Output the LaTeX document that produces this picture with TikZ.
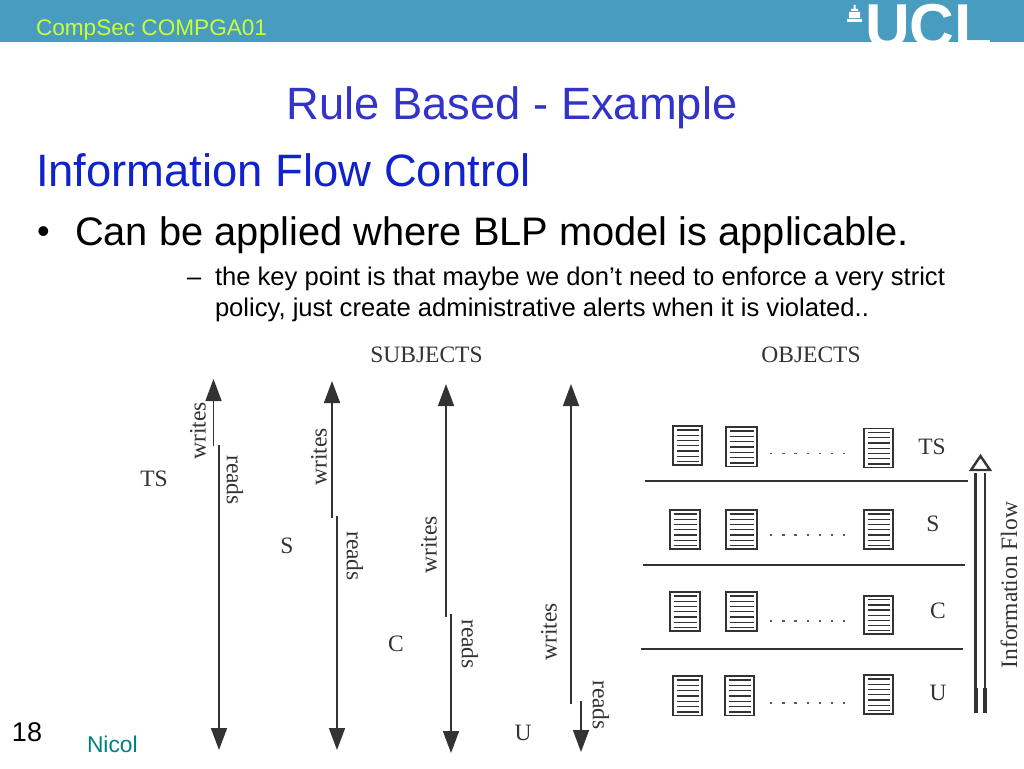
\documentclass[tikz,border=0pt]{standalone}
\usepackage{fontspec}
\usetikzlibrary{arrows.meta}
\setmainfont{Liberation Sans}
\newfontfamily\figfont{Liberation Serif}
\definecolor{barblue}{HTML}{479CBF}
\definecolor{titleblue}{HTML}{3333CC}
\definecolor{headblue}{HTML}{0F22CC}
\definecolor{logogreen}{HTML}{CCFF33}
\definecolor{nicolteal}{HTML}{008080}
\definecolor{figgrey}{HTML}{333333}
\tikzset{
  every node/.style={inner sep=0pt,outer sep=0pt},
  figlabel/.style={font=\figfont\fontsize{23.5}{26}\selectfont,text=figgrey},
  flowline/.style={draw=figgrey,line width=1.6pt},
  flowtip/.style={flowline,-{Triangle[length=22pt,width=16pt]}},
  levelline/.style={draw=figgrey,line width=1.4pt},
  docbox/.style={draw=figgrey,line width=1.2pt,fill=white},
  docline/.style={draw=figgrey,line width=1.3pt},
  dots/.style={draw=gray!70!black,line width=1.2pt,dash pattern=on 2.4pt off 9.8pt},
  pics/docicon/.style n args={2}{code={
    \draw[docbox] (0,0) rectangle (#1,#2);
    \foreach \f in {0.10,0.235,0.37,0.505,0.64,0.775,0.91}
      \draw[docline] (3.5,\f*#2) -- (#1-3.5,\f*#2);
  }},
}
\begin{document}
\begin{tikzpicture}[x=1pt,y=-1pt]
\useasboundingbox (0,0) rectangle (1024,768);
\fill[white] (0,0) rectangle (1024,768);
\fill[barblue] (0,0) rectangle (1024,42.5);
% logo
\node[anchor=base west,text=white,font=\fontsize{62}{62}\selectfont\bfseries] (ucl) at (865,47.5) {UCL};
\fill[white] (847,22) rectangle (862,19) (849,18) rectangle (860,12) (851,11) rectangle (858,9) (853.5,9) rectangle (855.5,5);
\node[anchor=base west,text=logogreen,font=\fontsize{22.6}{24}\selectfont] (course) at (36,35.5) {CompSec COMPGA01};
\node[anchor=base,text=titleblue,font=\fontsize{45.3}{48}\selectfont] (title) at (512,119) {Rule Based - Example};
\node[anchor=base west,text=headblue,font=\fontsize{45.4}{48}\selectfont] (head) at (36,186) {Information Flow Control};
\node[anchor=base west,font=\fontsize{36}{40}\selectfont] (bullet) at (37,243.5) {•};
\node[anchor=base west,font=\fontsize{39.8}{40}\selectfont] (main) at (75,245) {Can be applied where BLP model is applicable.};
\node[anchor=base west,font=\fontsize{25.6}{30}\selectfont] (dash) at (187,285) {–};
\node[anchor=base west,font=\fontsize{25.6}{30}\selectfont] (sub1) at (215,285) {the key point is that maybe we don’t need to enforce a very strict};
\node[anchor=base west,font=\fontsize{25.6}{30}\selectfont] (sub2) at (215,316) {policy, just create administrative alerts when it is violated..};
\node[anchor=base west,font=\fontsize{27}{30}\selectfont] (pagenum) at (12,741) {18};
\node[anchor=base west,text=nicolteal,font=\fontsize{22.8}{24}\selectfont] (nicol) at (87,752) {Nicol};
% figure headings
\node[figlabel] (subjects) at (426.5,355) {SUBJECTS};
\node[figlabel] (objects) at (811,355) {OBJECTS};
% subject lines
\coordinate (w1a) at (213.5,446); \coordinate (w1b) at (213.5,379);
\coordinate (r1a) at (219,445);   \coordinate (r1b) at (219,750);
\coordinate (w2a) at (332,518);   \coordinate (w2b) at (332,381);
\coordinate (r2a) at (337,516);   \coordinate (r2b) at (337,750);
\coordinate (w3a) at (446,617);   \coordinate (w3b) at (446,384);
\coordinate (r3a) at (451,614);   \coordinate (r3b) at (451,753);
\coordinate (w4a) at (571,704);   \coordinate (w4b) at (571,384);
\coordinate (r4a) at (581,701);   \coordinate (r4b) at (581,752);
\foreach \n in {1,2,3,4}{
  \draw[flowtip] (w\n a) -- (w\n b);
  \draw[flowtip] (r\n a) -- (r\n b);
}
\node[figlabel,rotate=90] (wl1) at (198,431) {writes};
\node[figlabel,rotate=-90] (rl1) at (235,480) {reads};
\node[figlabel,rotate=90] (wl2) at (319,457) {writes};
\node[figlabel,rotate=-90] (rl2) at (355,556) {reads};
\node[figlabel,rotate=90] (wl3) at (429,545) {writes};
\node[figlabel,rotate=-90] (rl3) at (470,644) {reads};
\node[figlabel,rotate=90] (wl4) at (549,632) {writes};
\node[figlabel,rotate=-90] (rl4) at (601,705) {reads};
\node[figlabel] (lts) at (154,479) {TS};
\node[figlabel] (ls) at (287,546) {S};
\node[figlabel] (lc) at (396,644) {C};
\node[figlabel] (lu) at (523,733) {U};
% object rows
\pic at (673,426) {docicon={29}{39}};
\pic at (726,427) {docicon={31}{39.5}};
\pic at (864,428.5) {docicon={29}{39}};
\pic at (670,510) {docicon={30}{39}};
\pic at (726,510) {docicon={31}{39}};
\pic at (864,510) {docicon={29}{39}};
\pic at (670,592) {docicon={30}{39}};
\pic at (726,592) {docicon={31}{39}};
\pic at (864,596) {docicon={29}{38}};
\pic at (673,676) {docicon={29}{39.5}};
\pic at (725,676) {docicon={29}{39.5}};
\pic at (864,675) {docicon={29}{39}};
\draw[dots] (770,453.5) -- (845,453.5);
\draw[dots] (770,535) -- (845,535);
\draw[dots] (770,621) -- (845,621);
\draw[dots] (770,703) -- (845,703);
\coordinate (l1a) at (645,481); \coordinate (l1b) at (968,481);
\coordinate (l2a) at (643,565); \coordinate (l2b) at (965,565);
\coordinate (l3a) at (641,649); \coordinate (l3b) at (963,649);
\foreach \n in {1,2,3}{\draw[levelline] (l\n a) -- (l\n b);}
\node[figlabel] (ots) at (932,447) {TS};
\node[figlabel] (os) at (933,524) {S};
\node[figlabel] (oc) at (938,611) {C};
\node[figlabel] (ou) at (938,693) {U};
% information flow arrow
\coordinate (fa1) at (975.7,688); \coordinate (fb1) at (975.7,473);
\coordinate (fa2) at (985,688); \coordinate (fb2) at (985,473);
\coordinate (fc1) at (975.7,713); \coordinate (fc2) at (985,713);
\draw[figgrey,line width=2.6pt] (fa1) -- (fb1);
\draw[figgrey,line width=2.6pt] (fa2) -- (fb2);
\draw[figgrey,line width=3.8pt] (fc1) -- (fa1);
\draw[figgrey,line width=3.8pt] (fc2) -- (fa2);
\draw[figgrey,line width=2.4pt,line join=miter] (980.5,456) -- (971,470) -- (990,470) -- cycle;
\node[figlabel,rotate=90] (flow) at (1009,585) {Information Flow};
\end{tikzpicture}
\end{document}
